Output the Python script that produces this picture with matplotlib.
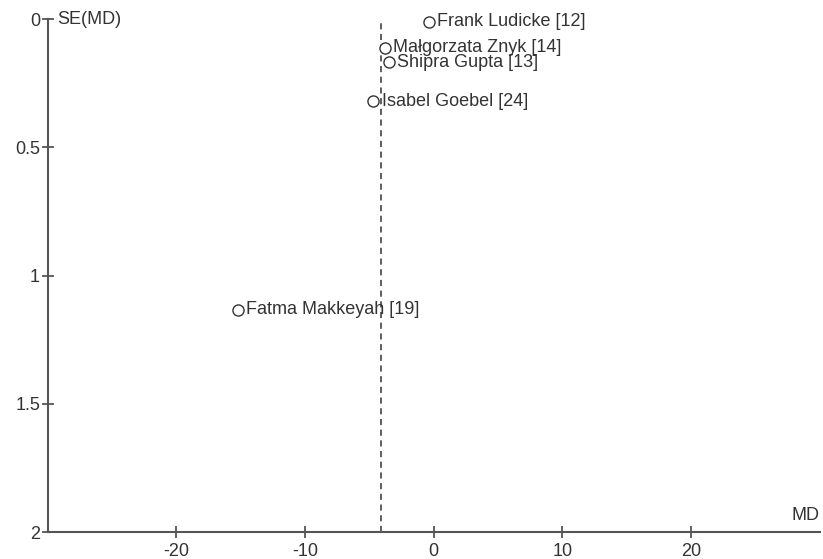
import matplotlib.pyplot as plt

plt.rcParams['font.family'] = ['Liberation Sans', 'DejaVu Sans']
plt.rcParams['axes.unicode_minus'] = False

studies = ['Frank Ludicke [12]', 'Małgorzata Znyk [14]', 'Shipra Gupta [13]',
           'Isabel Goebel [24]', 'Fatma Makkeyah [19]']
md = [-0.4, -3.8, -3.5, -4.7, -15.2]
se = [0.01, 0.113, 0.168, 0.32, 1.134]
pooled_md = -4.13

fig = plt.figure(figsize=(8.23, 5.59), dpi=100)
ax = fig.add_axes([0.058, 0.048, 0.938, 0.918])

ax.axvline(pooled_md, color='#333333', lw=1.1, ls=(0, (4, 3)))
ax.plot(md, se, 'o', ms=8, mfc='white', mec='#333333', mew=1.0, clip_on=False)
for x, y, s in zip(md, se, studies):
    ax.annotate(s, (x, y), xytext=(6, 0), textcoords='offset points',
                va='center', ha='left', fontsize=13, color='#333333')

ax.set_xlim(-30, 30)
ax.set_ylim(2, 0)
ax.set_xticks([-20, -10, 0, 10, 20])
ax.set_yticks([0, 0.5, 1, 1.5, 2])
ax.set_yticklabels(['0', '0.5', '1', '1.5', '2'])

for side in ['top', 'right']:
    ax.spines[side].set_visible(False)
for side in ['left', 'bottom']:
    ax.spines[side].set_color('#555555')
    ax.spines[side].set_linewidth(1.5)
ax.tick_params(direction='inout', length=9, width=1.3, color='#555555',
               labelsize=13, labelcolor='#333333')
ax.tick_params(axis='x', pad=3)
ax.tick_params(axis='y', pad=1)

ax.text(0.012, 1.0, 'SE(MD)', transform=ax.transAxes, fontsize=13,
        color='#333333', va='center', ha='left')
ax.text(1.0, 0.016, 'MD', transform=ax.transAxes, fontsize=13,
        color='#333333', va='bottom', ha='right')

fig.savefig('out.png', dpi=100)
